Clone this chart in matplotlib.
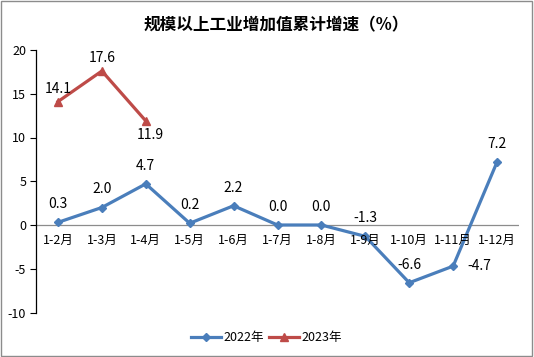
import matplotlib
matplotlib.use("Agg")
import matplotlib.pyplot as plt
from matplotlib.patches import Rectangle

plt.rcParams['font.family'] = ['Noto Sans CJK SC', 'DejaVu Sans']

categories = ["1-2月", "1-3月", "1-4月", "1-5月", "1-6月", "1-7月", "1-8月", "1-9月", "1-10月", "1-11月", "1-12月"]
values_2022 = [0.3, 2.0, 4.7, 0.2, 2.2, 0.0, 0.0, -1.3, -6.6, -4.7, 7.2]
values_2023 = [14.1, 17.6, 11.9]
yticks = [-10, -5, 0, 5, 10, 15, 20]

blue = "#4A7EBB"
red = "#BE4B48"

fig = plt.figure(figsize=(5.34, 3.57), dpi=100)
ax = fig.add_axes([36/534, 1-312.5/357, 483/534, (312.5-50)/357])

x22 = list(range(len(values_2022)))
x23 = list(range(len(values_2023)))
ax.plot(x22, values_2022, color=blue, lw=2.3, marker="D", ms=4.5, label="2022年", zorder=3)
ax.plot(x23, values_2023, color=red, lw=2.3, marker="^", ms=6, label="2023年", zorder=3)

ax.set_xlim(-0.5, len(categories) - 0.5)
ax.set_ylim(-10, 20)
ax.set_yticks(yticks)
ax.set_yticklabels([str(t) for t in yticks], fontsize=9)
ax.tick_params(axis='y', length=4, width=0.8, pad=3, direction='out')
ax.set_xticks([])
for s in ["top", "right", "bottom"]:
    ax.spines[s].set_visible(False)
ax.spines["left"].set_linewidth(0.9)
ax.axhline(0, color="#8C8C8C", lw=0.9, zorder=1)

# category labels below zero line
for i, c in enumerate(categories):
    ax.annotate(c, (i, 0), xytext=(0, -11), textcoords="offset points",
                ha="center", va="center", fontsize=9)

# data labels 2022
offsets22 = [(0, 13), (0, 13), (0, 13), (0, 13), (0, 13), (0, 13), (0, 13), (0, 13), (0, 13), (19, 0), (0, 13)]
for i, v in enumerate(values_2022):
    dx, dy = offsets22[i]
    ax.annotate(f"{v:.1f}", (i, v), xytext=(dx, dy), textcoords="offset points",
                ha="center", va="center", fontsize=10)
offsets23 = [(0, 9), (0, 9), (3, -10)]
for i, v in enumerate(values_2023):
    dx, dy = offsets23[i]
    ax.annotate(f"{v:.1f}", (i, v), xytext=(dx, dy), textcoords="offset points",
                ha="center", va="center", fontsize=10)

fig.text(276/534, 1-25/357, "规模以上工业增加值累计增速（%）", ha="center", va="center",
         fontsize=12, fontweight="bold")

leg = fig.legend(loc="center", bbox_to_anchor=(266/534, 1-338/357), ncol=2, frameon=False,
                 fontsize=9, handlelength=2.4, columnspacing=0.4, handletextpad=0.2)

fig.patches.append(Rectangle((0.002, 0.003), 0.995, 0.994, transform=fig.transFigure,
                             fill=False, edgecolor="#8C8C8C", lw=1.0))

fig.savefig("out.png", dpi=100)
